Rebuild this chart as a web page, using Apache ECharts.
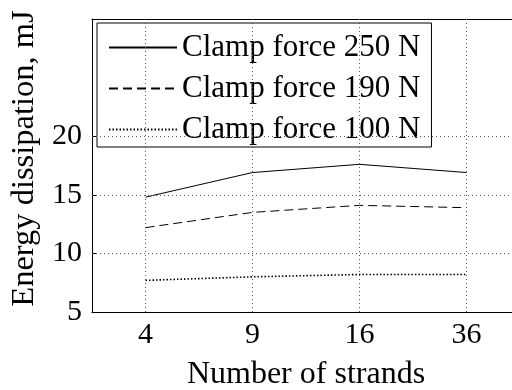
<!DOCTYPE html>
<html>
<head>
<meta charset="utf-8">
<script src="https://cdn.jsdelivr.net/npm/echarts@6/dist/echarts.min.js"></script>
<style>
  html, body { margin: 0; padding: 0; background: #fff; }
  #chart { width: 512px; height: 390px; }
</style>
</head>
<body>
<div id="chart"></div>
<script>
// Number of strands (categories on the x axis)
const strands = ['4', '9', '16', '36'];

// Energy dissipation in mJ for each clamp force
const force250 = [14.8, 16.9, 17.6, 16.9];
const force190 = [12.2, 13.5, 14.1, 13.9];
const force100 = [7.7, 8.0, 8.2, 8.2];

const seriesNames = ['Clamp force 250 N', 'Clamp force 190 N', 'Clamp force 100 N'];

// Y axis ticks and range
const yTicks = [5, 10, 15, 20];
const yMin = 5;
const yMax = 30;

const FONT = 'Liberation Serif';
const INK = '#000';
const GRID_DOT = { color: '#555', width: 1, type: [1, 3] };

// dotted grid lines at every category and labelled y tick
const gridLines = {
  silent: true,
  symbol: 'none',
  label: { show: false },
  lineStyle: GRID_DOT,
  data: [
    ...strands.map(s => ({ xAxis: s })),
    ...yTicks.filter(v => v > yMin).map(v => ({ yAxis: v }))
  ]
};

function lineSeries(name, data, type, width) {
  return {
    name: name,
    type: 'line',
    data: data,
    symbol: 'none',
    showSymbol: false,
    z: 3,
    lineStyle: { color: INK, width: width, type: type },
    itemStyle: { color: INK }
  };
}

const series = [
  lineSeries(seriesNames[0], force250, 'solid', 1),
  lineSeries(seriesNames[1], force190, [9, 5], 1),
  lineSeries(seriesNames[2], force100, [1.5, 2], 1.6)
];
series[0].markLine = gridLines;

const chart = echarts.init(document.getElementById('chart'), null, { renderer: 'canvas' });
chart.setOption({
  animation: false,
  backgroundColor: '#fff',
  textStyle: { fontFamily: FONT, color: INK },
  grid: { left: 92, right: -8, top: 19, bottom: 78, containLabel: false, outerBoundsMode: 'none' },
  legend: {
    orient: 'vertical',
    left: 97,
    top: 23,
    data: seriesNames,
    itemWidth: 68,
    itemHeight: 14,
    itemGap: 8,
    padding: [8, 11, 1, 11],
    borderColor: INK,
    borderWidth: 1,
    backgroundColor: '#fff',
    itemStyle: { opacity: 0 },
    textStyle: { fontFamily: FONT, fontSize: 31, color: INK, lineHeight: 33 }
  },
  xAxis: [
    {
      type: 'category',
      data: strands,
      boundaryGap: true,
      position: 'bottom',
      name: 'Number of strands',
      nameLocation: 'middle',
      nameGap: 47,
      nameTextStyle: { fontFamily: FONT, fontSize: 32, color: INK },
      axisLine: { lineStyle: { color: INK, width: 1 } },
      axisTick: { inside: true, alignWithLabel: true, length: 5, lineStyle: { color: INK } },
      axisLabel: { fontFamily: FONT, fontSize: 30, color: INK, margin: 8 },
      splitLine: { show: false }
    },
    {
      type: 'category',
      data: strands,
      boundaryGap: true,
      position: 'top',
      axisLine: { lineStyle: { color: INK, width: 1 } },
      axisTick: { inside: true, alignWithLabel: true, length: 5, lineStyle: { color: INK } },
      axisLabel: { show: false },
      splitLine: { show: false }
    }
  ],
  yAxis: {
    type: 'value',
    min: yMin,
    max: yMax,
    interval: 5,
    name: 'Energy dissipation, mJ',
    nameLocation: 'middle',
    nameRotate: 90,
    nameGap: 49,
    nameTextStyle: { fontFamily: FONT, fontSize: 32.5, color: INK, padding: [0, 0, 0, 14] },
    axisLine: { show: true, lineStyle: { color: INK, width: 1 } },
    axisTick: { show: true, inside: true, length: 5, customValues: yTicks, lineStyle: { color: INK } },
    axisLabel: { fontFamily: FONT, fontSize: 30, color: INK, margin: 10, customValues: yTicks },
    splitLine: { show: false }
  },
  series: series
});
</script>
</body>
</html>
